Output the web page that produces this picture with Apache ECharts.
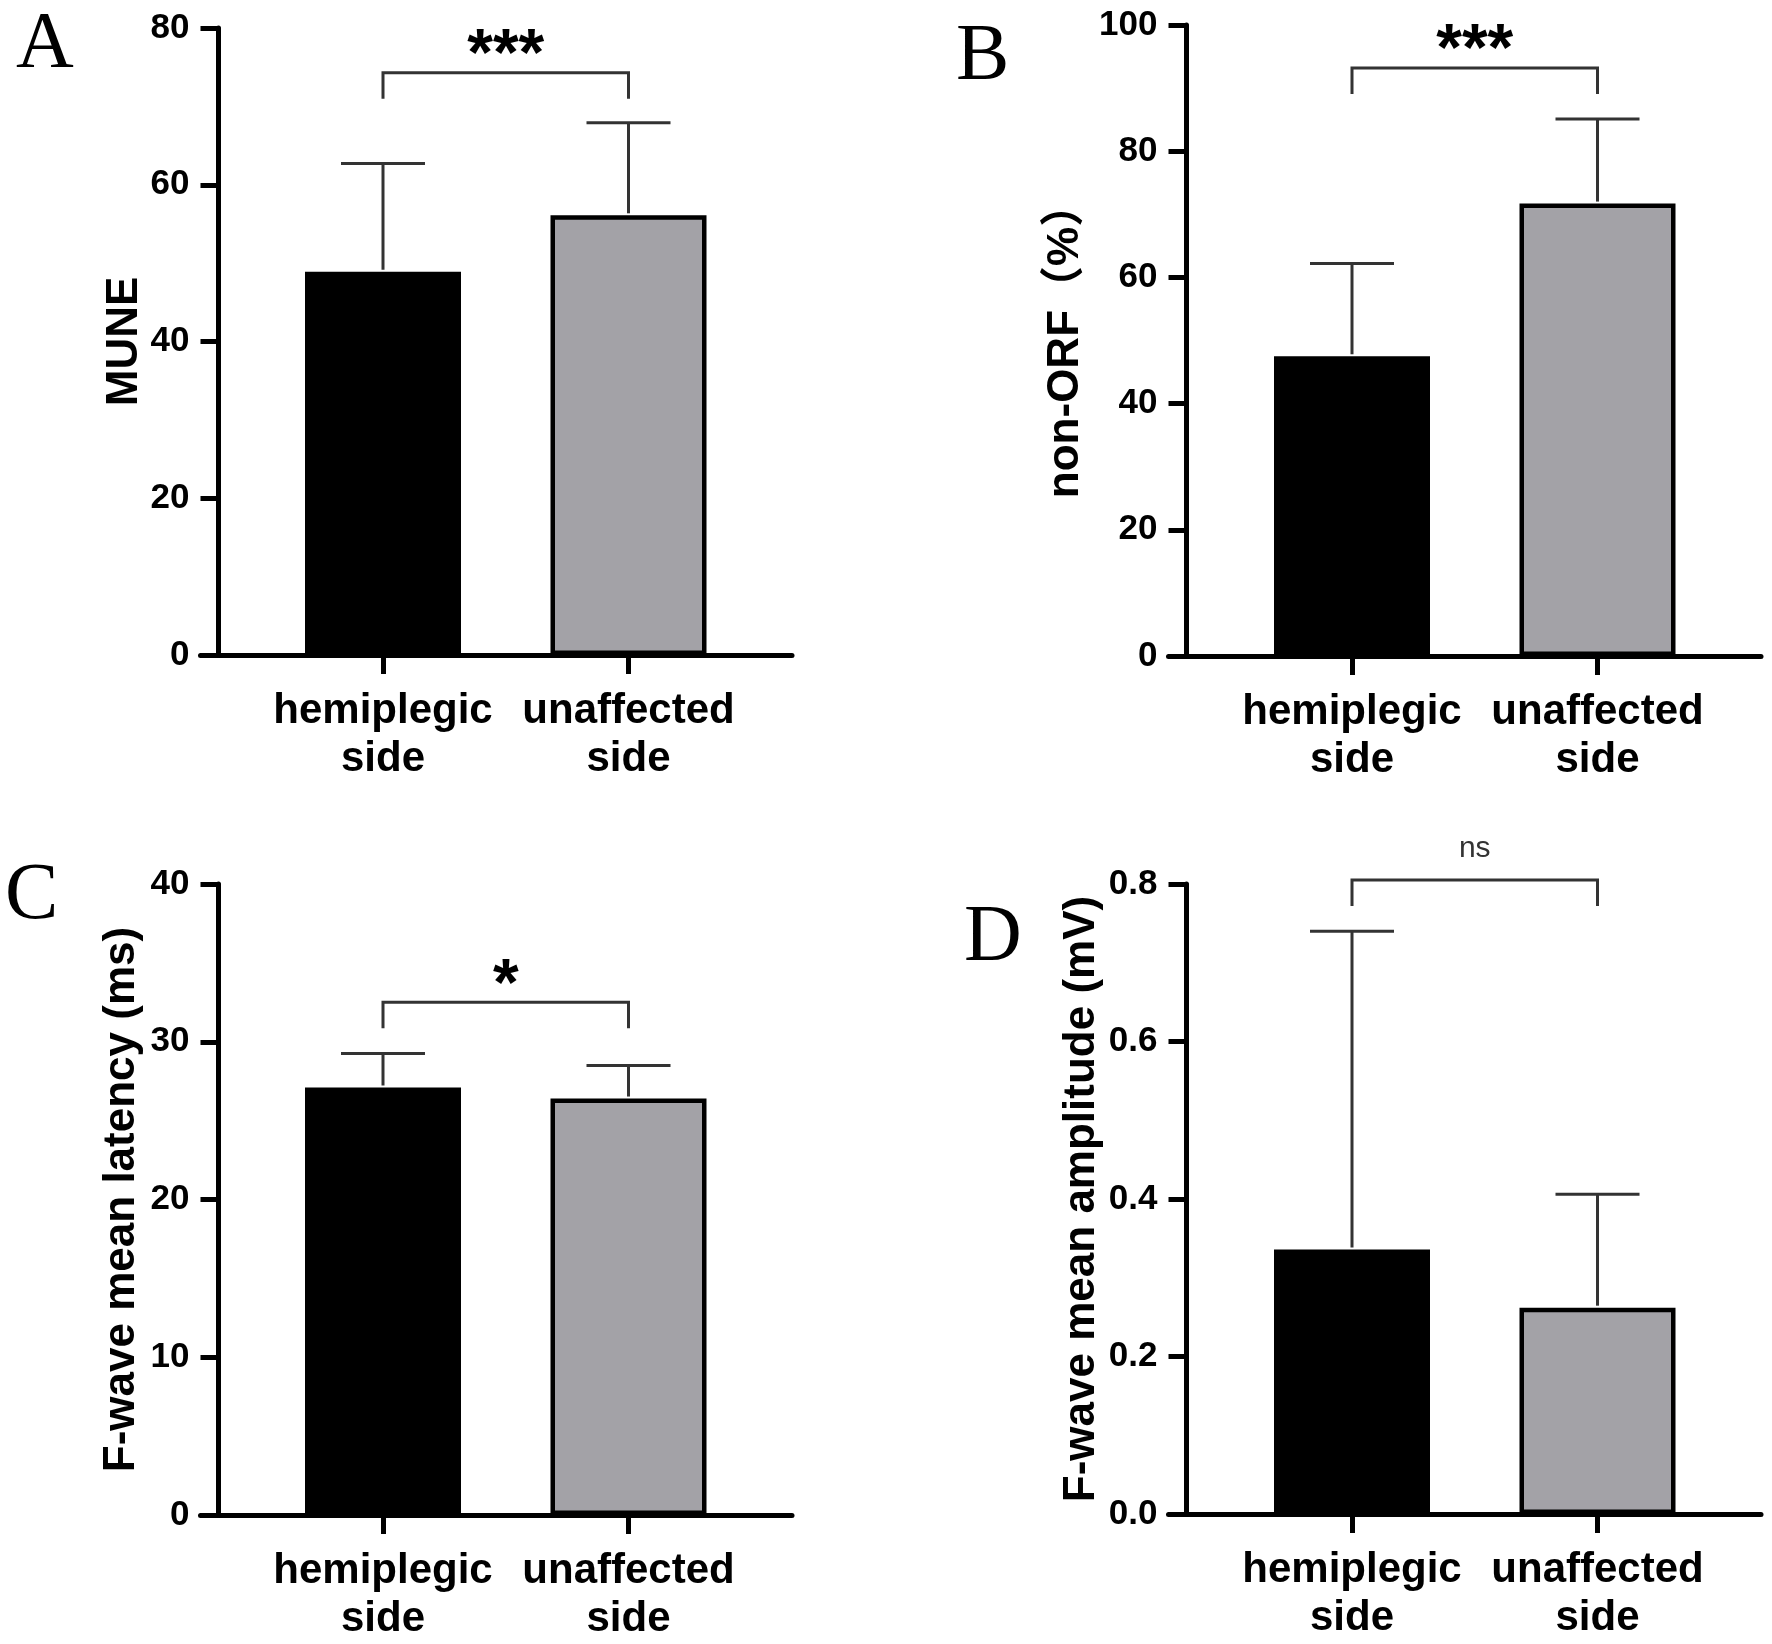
<!DOCTYPE html>
<html>
<head>
<meta charset="utf-8">
<script src="https://cdn.jsdelivr.net/npm/echarts@6/dist/echarts.min.js"></script>
<style>
html, body { margin: 0; padding: 0; background: #fff; }
#main { width: 1772px; height: 1644px; }
</style>
</head>
<body>
<div id="main"></div>
<script>
// 数据
var categories = ['hemiplegic\nside', 'unaffected\nside'];
var muneMean = [48.9, 56.1];
var muneSD = [13.8, 11.8];
var nonOrfMean = [47.5, 71.7];
var nonOrfSD = [14.7, 13.4];
var latencyMean = [27.1, 26.4];
var latencySD = [2.15, 2.1];
var amplitudeMean = [0.336, 0.262];
var amplitudeSD = [0.404, 0.144];
var sigLabels = ['***', '***', '*', 'ns'];
var bracketLevels = [74.3, 93.2, 32.5, 0.805];
var yMax = [80, 100, 40, 0.8];
var yStep = [20, 20, 10, 0.2];
var yNames = ['MUNE', 'non-ORF（%）', 'F-wave mean latency (ms)', 'F-wave mean amplitude (mV)'];
var panelLetters = ['A', 'B', 'C', 'D'];

var means = [muneMean, nonOrfMean, latencyMean, amplitudeMean];
var sds = [muneSD, nonOrfSD, latencySD, amplitudeSD];

// 版面 (像素)
var unit = 245.5;
var tickLen = 18;
var panels = [
    {axisX: 218.5, top: 28, bottom: 655, right: 792, catOff: 164.5, nameGap: 54, letter: [16, 6]},
    {axisX: 1186.5, top: 25, bottom: 656, right: 1761, catOff: 165.5, nameGap: 81, letter: [956, 18]},
    {axisX: 218.5, top: 884, bottom: 1515, right: 792, catOff: 164.5, nameGap: 57, letter: [5, 857]},
    {axisX: 1186.5, top: 884, bottom: 1514, right: 1761, catOff: 165.5, nameGap: 65, letter: [964, 899]}
];
var barColors = ['#000000', '#a3a2a7'];
var SANS = '"Liberation Sans", Arial, "Noto Sans CJK SC", sans-serif';

var grids = [], xAxes = [], yAxes = [], series = [], graphics = [];

panels.forEach(function (p, k) {
    var pos = categories.map(function (c, i) { return p.catOff / unit + i; });
    grids.push({
        left: p.axisX - tickLen,
        top: p.top,
        width: p.right - (p.axisX - tickLen),
        height: p.bottom - p.top
    });
    xAxes.push({
        type: 'value',
        gridIndex: k,
        min: -tickLen / unit,
        max: (p.right - p.axisX) / unit,
        splitLine: {show: false},
        axisLine: {show: true, onZero: true, lineStyle: {color: '#000', width: 5}},
        axisTick: {show: true, customValues: pos, length: 19, lineStyle: {color: '#000', width: 5}},
        axisLabel: {
            show: true,
            customValues: pos,
            margin: 32,
            color: '#000',
            fontSize: 42,
            fontWeight: 'bold',
            fontFamily: SANS,
            lineHeight: 48,
            formatter: function (v) {
                for (var i = 0; i < pos.length; i++) {
                    if (Math.abs(pos[i] - v) < 1e-6) return categories[i];
                }
                return '';
            }
        }
    });
    yAxes.push({
        type: 'value',
        gridIndex: k,
        min: 0,
        max: yMax[k],
        interval: yStep[k],
        name: yNames[k],
        nameLocation: 'middle',
        nameGap: p.nameGap,
        nameMoveOverlap: false,
        nameTextStyle: {color: '#000', fontSize: 44, fontWeight: 'bold', fontFamily: SANS},
        splitLine: {show: false},
        axisLine: {show: true, onZero: true, lineStyle: {color: '#000', width: 5}},
        axisTick: {show: true, length: tickLen, lineStyle: {color: '#000', width: 5}},
        axisLabel: {
            margin: 11,
            color: '#000',
            fontSize: 35,
            fontWeight: 'bold',
            fontFamily: SANS,
            formatter: function (v) { return k === 3 ? v.toFixed(1) : String(v); }
        }
    });

    // 柱子
    series.push({
        type: 'bar',
        xAxisIndex: k,
        yAxisIndex: k,
        barWidth: 156,
        data: means[k].map(function (m, i) {
            return {value: [pos[i], m], itemStyle: {color: barColors[i]}};
        }),
        itemStyle: {borderColor: '#000', borderWidth: 4.5},
        z: 2
    });

    // 误差线 (只画上半)
    series.push({
        type: 'custom',
        xAxisIndex: k,
        yAxisIndex: k,
        clip: false,
        z: 3,
        data: means[k].map(function (m, i) { return [pos[i], m, m + sds[k][i]]; }),
        renderItem: function (params, api) {
            var base = api.coord([api.value(0), api.value(1)]);
            var top = api.coord([api.value(0), api.value(2)]);
            var st = {stroke: '#333', lineWidth: 3};
            return {
                type: 'group',
                children: [
                    {type: 'line', shape: {x1: base[0], y1: base[1] - 2, x2: top[0], y2: top[1]}, style: st},
                    {type: 'line', shape: {x1: top[0] - 42, y1: top[1], x2: top[0] + 42, y2: top[1]}, style: st}
                ]
            };
        }
    });

    // 显著性标记
    series.push({
        type: 'custom',
        xAxisIndex: k,
        yAxisIndex: k,
        clip: false,
        z: 4,
        data: [[pos[0], pos[1], bracketLevels[k]]],
        renderItem: function (params, api) {
            var a = api.coord([api.value(0), api.value(2)]);
            var b = api.coord([api.value(1), api.value(2)]);
            var drop = 26;
            var label = sigLabels[k];
            var isNs = label === 'ns';
            return {
                type: 'group',
                children: [
                    {
                        type: 'polyline',
                        shape: {points: [[a[0], a[1] + drop], [a[0], a[1]], [b[0], b[1]], [b[0], b[1] + drop]]},
                        style: {stroke: '#333', lineWidth: 3, fill: null}
                    },
                    {
                        type: 'text',
                        style: {
                            text: label,
                            x: (a[0] + b[0]) / 2,
                            y: a[1] - (isNs ? 31 : 16),
                            align: 'center',
                            verticalAlign: 'middle',
                            fill: isNs ? '#333' : '#000',
                            font: isNs ? ('normal 30px ' + SANS) : ('bold 66px ' + SANS)
                        }
                    }
                ]
            };
        }
    });

    graphics.push({
        type: 'text',
        left: p.letter[0],
        top: p.letter[1],
        style: {text: panelLetters[k], font: 'normal 80px "Liberation Serif", "Times New Roman", serif', fill: '#000'}
    });
});

var myChart = echarts.init(document.getElementById('main'));
myChart.setOption({
    backgroundColor: '#fff',
    animation: false,
    grid: grids,
    xAxis: xAxes,
    yAxis: yAxes,
    series: series,
    graphic: graphics
});
</script>
</body>
</html>
